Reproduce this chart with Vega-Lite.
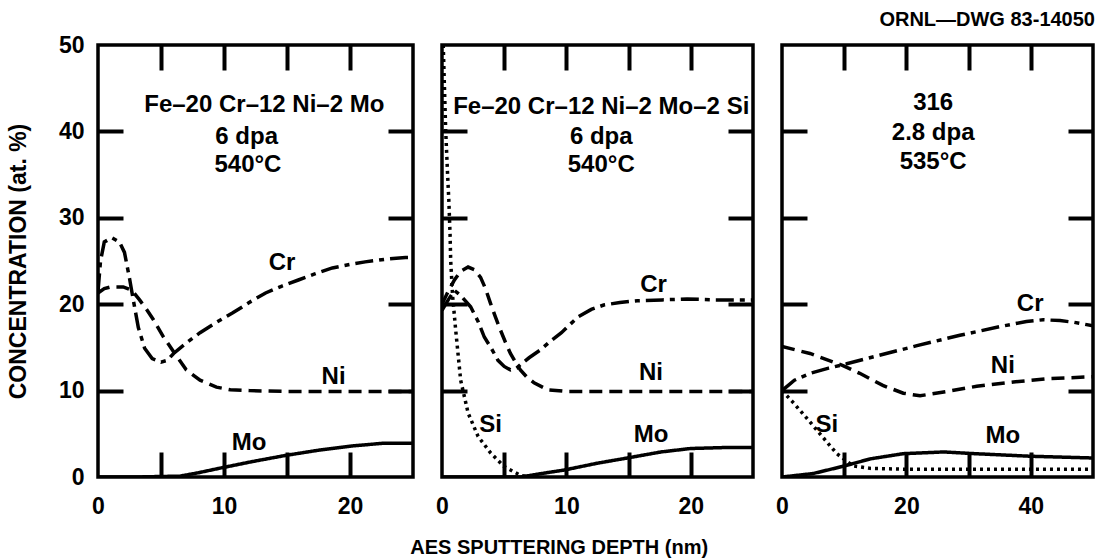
{
  "$schema": "https://vega.github.io/schema/vega-lite/v6.json",
  "background": "white",
  "padding": {"left": 5, "top": 8, "right": 3, "bottom": 4},
  "bounds": "flush",
  "spacing": 29,
  "title": {"text": "AES SPUTTERING DEPTH (nm)", "orient": "bottom", "anchor": "middle", "font": "Liberation Sans", "fontSize": 20, "fontWeight": "bold", "color": "black", "offset": 18, "dx": 8},
  "datasets": {
    "curves": [
      {"panel": "p1", "element": "Cr", "x": 0, "y": 21.5},
      {"panel": "p1", "element": "Cr", "x": 0.2, "y": 25},
      {"panel": "p1", "element": "Cr", "x": 0.5, "y": 27.2},
      {"panel": "p1", "element": "Cr", "x": 1.1, "y": 27.7},
      {"panel": "p1", "element": "Cr", "x": 1.7, "y": 27.2},
      {"panel": "p1", "element": "Cr", "x": 2.1, "y": 26},
      {"panel": "p1", "element": "Cr", "x": 2.5, "y": 23},
      {"panel": "p1", "element": "Cr", "x": 2.8, "y": 20.5},
      {"panel": "p1", "element": "Cr", "x": 3.2, "y": 17.3},
      {"panel": "p1", "element": "Cr", "x": 3.7, "y": 14.9},
      {"panel": "p1", "element": "Cr", "x": 4.3, "y": 13.7},
      {"panel": "p1", "element": "Cr", "x": 5, "y": 13.3},
      {"panel": "p1", "element": "Cr", "x": 5.5, "y": 13.5},
      {"panel": "p1", "element": "Cr", "x": 6, "y": 14.3},
      {"panel": "p1", "element": "Cr", "x": 7, "y": 15.5},
      {"panel": "p1", "element": "Cr", "x": 8.1, "y": 16.7},
      {"panel": "p1", "element": "Cr", "x": 9.4, "y": 17.9},
      {"panel": "p1", "element": "Cr", "x": 10.7, "y": 19},
      {"panel": "p1", "element": "Cr", "x": 12, "y": 20.2},
      {"panel": "p1", "element": "Cr", "x": 13.3, "y": 21.3},
      {"panel": "p1", "element": "Cr", "x": 14.6, "y": 22.1},
      {"panel": "p1", "element": "Cr", "x": 15.9, "y": 22.8},
      {"panel": "p1", "element": "Cr", "x": 17.2, "y": 23.5},
      {"panel": "p1", "element": "Cr", "x": 18.6, "y": 24.2},
      {"panel": "p1", "element": "Cr", "x": 20, "y": 24.6},
      {"panel": "p1", "element": "Cr", "x": 21.2, "y": 24.9},
      {"panel": "p1", "element": "Cr", "x": 22.8, "y": 25.2},
      {"panel": "p1", "element": "Cr", "x": 24.4, "y": 25.4},
      {"panel": "p1", "element": "Cr", "x": 25, "y": 25.4},
      {"panel": "p1", "element": "Ni", "x": 0, "y": 21.3},
      {"panel": "p1", "element": "Ni", "x": 0.5, "y": 21.8},
      {"panel": "p1", "element": "Ni", "x": 1, "y": 22},
      {"panel": "p1", "element": "Ni", "x": 2, "y": 22},
      {"panel": "p1", "element": "Ni", "x": 2.7, "y": 21.6},
      {"panel": "p1", "element": "Ni", "x": 3.3, "y": 20.5},
      {"panel": "p1", "element": "Ni", "x": 3.9, "y": 19.3},
      {"panel": "p1", "element": "Ni", "x": 4.4, "y": 18.2},
      {"panel": "p1", "element": "Ni", "x": 5.2, "y": 16.2},
      {"panel": "p1", "element": "Ni", "x": 6, "y": 14.5},
      {"panel": "p1", "element": "Ni", "x": 7, "y": 12.4},
      {"panel": "p1", "element": "Ni", "x": 8.1, "y": 11.2},
      {"panel": "p1", "element": "Ni", "x": 9.4, "y": 10.4},
      {"panel": "p1", "element": "Ni", "x": 10.5, "y": 10.1},
      {"panel": "p1", "element": "Ni", "x": 12, "y": 10},
      {"panel": "p1", "element": "Ni", "x": 15, "y": 9.9},
      {"panel": "p1", "element": "Ni", "x": 20, "y": 9.9},
      {"panel": "p1", "element": "Ni", "x": 25, "y": 9.9},
      {"panel": "p1", "element": "Mo", "x": 0, "y": 0},
      {"panel": "p1", "element": "Mo", "x": 3, "y": 0},
      {"panel": "p1", "element": "Mo", "x": 6.5, "y": 0.1},
      {"panel": "p1", "element": "Mo", "x": 8, "y": 0.5},
      {"panel": "p1", "element": "Mo", "x": 9.6, "y": 1.0},
      {"panel": "p1", "element": "Mo", "x": 12.3, "y": 1.8},
      {"panel": "p1", "element": "Mo", "x": 14.9, "y": 2.5},
      {"panel": "p1", "element": "Mo", "x": 17.5, "y": 3.1},
      {"panel": "p1", "element": "Mo", "x": 20.2, "y": 3.6},
      {"panel": "p1", "element": "Mo", "x": 22.6, "y": 3.9},
      {"panel": "p1", "element": "Mo", "x": 25, "y": 3.9},

      {"panel": "p2", "element": "Si", "x": 0.1, "y": 50},
      {"panel": "p2", "element": "Si", "x": 0.2, "y": 45},
      {"panel": "p2", "element": "Si", "x": 0.3, "y": 40},
      {"panel": "p2", "element": "Si", "x": 0.45, "y": 35},
      {"panel": "p2", "element": "Si", "x": 0.55, "y": 32},
      {"panel": "p2", "element": "Si", "x": 0.65, "y": 28},
      {"panel": "p2", "element": "Si", "x": 0.7, "y": 25},
      {"panel": "p2", "element": "Si", "x": 0.85, "y": 21},
      {"panel": "p2", "element": "Si", "x": 1.1, "y": 17},
      {"panel": "p2", "element": "Si", "x": 1.5, "y": 11.2},
      {"panel": "p2", "element": "Si", "x": 2.1, "y": 7.4},
      {"panel": "p2", "element": "Si", "x": 2.9, "y": 4.7},
      {"panel": "p2", "element": "Si", "x": 3.9, "y": 2.8},
      {"panel": "p2", "element": "Si", "x": 5, "y": 1.2},
      {"panel": "p2", "element": "Si", "x": 6.3, "y": 0.2},
      {"panel": "p2", "element": "Si", "x": 7, "y": 0},
      {"panel": "p2", "element": "Cr", "x": 0, "y": 19.3},
      {"panel": "p2", "element": "Cr", "x": 0.5, "y": 20.5},
      {"panel": "p2", "element": "Cr", "x": 1, "y": 21.6},
      {"panel": "p2", "element": "Cr", "x": 1.5, "y": 21},
      {"panel": "p2", "element": "Cr", "x": 2.3, "y": 19.7},
      {"panel": "p2", "element": "Cr", "x": 2.9, "y": 18},
      {"panel": "p2", "element": "Cr", "x": 3.4, "y": 16.2},
      {"panel": "p2", "element": "Cr", "x": 4, "y": 14.8},
      {"panel": "p2", "element": "Cr", "x": 4.5, "y": 13.5},
      {"panel": "p2", "element": "Cr", "x": 5, "y": 12.8},
      {"panel": "p2", "element": "Cr", "x": 5.5, "y": 12.4},
      {"panel": "p2", "element": "Cr", "x": 6, "y": 12.6},
      {"panel": "p2", "element": "Cr", "x": 6.3, "y": 13},
      {"panel": "p2", "element": "Cr", "x": 7, "y": 13.8},
      {"panel": "p2", "element": "Cr", "x": 7.9, "y": 14.7},
      {"panel": "p2", "element": "Cr", "x": 8.7, "y": 15.7},
      {"panel": "p2", "element": "Cr", "x": 9.6, "y": 16.7},
      {"panel": "p2", "element": "Cr", "x": 10.9, "y": 18.5},
      {"panel": "p2", "element": "Cr", "x": 12, "y": 19.4},
      {"panel": "p2", "element": "Cr", "x": 13, "y": 19.9},
      {"panel": "p2", "element": "Cr", "x": 14.3, "y": 20.2},
      {"panel": "p2", "element": "Cr", "x": 15.7, "y": 20.4},
      {"panel": "p2", "element": "Cr", "x": 17.7, "y": 20.5},
      {"panel": "p2", "element": "Cr", "x": 19.7, "y": 20.6},
      {"panel": "p2", "element": "Cr", "x": 22, "y": 20.5},
      {"panel": "p2", "element": "Cr", "x": 25, "y": 20.5},
      {"panel": "p2", "element": "Ni", "x": 0, "y": 20},
      {"panel": "p2", "element": "Ni", "x": 0.5, "y": 21.5},
      {"panel": "p2", "element": "Ni", "x": 1, "y": 22.8},
      {"panel": "p2", "element": "Ni", "x": 1.5, "y": 23.8},
      {"panel": "p2", "element": "Ni", "x": 2.1, "y": 24.3},
      {"panel": "p2", "element": "Ni", "x": 2.6, "y": 24},
      {"panel": "p2", "element": "Ni", "x": 3.1, "y": 23.1},
      {"panel": "p2", "element": "Ni", "x": 3.5, "y": 21.8},
      {"panel": "p2", "element": "Ni", "x": 3.9, "y": 20.1},
      {"panel": "p2", "element": "Ni", "x": 4.3, "y": 18.5},
      {"panel": "p2", "element": "Ni", "x": 4.7, "y": 17},
      {"panel": "p2", "element": "Ni", "x": 5.1, "y": 15.6},
      {"panel": "p2", "element": "Ni", "x": 5.5, "y": 14.3},
      {"panel": "p2", "element": "Ni", "x": 5.9, "y": 13.3},
      {"panel": "p2", "element": "Ni", "x": 6.3, "y": 12.4},
      {"panel": "p2", "element": "Ni", "x": 6.8, "y": 11.6},
      {"panel": "p2", "element": "Ni", "x": 7.4, "y": 10.9},
      {"panel": "p2", "element": "Ni", "x": 8.5, "y": 10.1},
      {"panel": "p2", "element": "Ni", "x": 10, "y": 9.9},
      {"panel": "p2", "element": "Ni", "x": 15, "y": 9.9},
      {"panel": "p2", "element": "Ni", "x": 20, "y": 9.9},
      {"panel": "p2", "element": "Ni", "x": 25, "y": 9.9},
      {"panel": "p2", "element": "Mo", "x": 0, "y": 0},
      {"panel": "p2", "element": "Mo", "x": 6.3, "y": 0},
      {"panel": "p2", "element": "Mo", "x": 8, "y": 0.4},
      {"panel": "p2", "element": "Mo", "x": 9.8, "y": 0.8},
      {"panel": "p2", "element": "Mo", "x": 12.5, "y": 1.6},
      {"panel": "p2", "element": "Mo", "x": 14.9, "y": 2.2},
      {"panel": "p2", "element": "Mo", "x": 17.6, "y": 2.9},
      {"panel": "p2", "element": "Mo", "x": 20, "y": 3.3},
      {"panel": "p2", "element": "Mo", "x": 22.5, "y": 3.4},
      {"panel": "p2", "element": "Mo", "x": 25, "y": 3.4},

      {"panel": "p3", "element": "Cr", "x": 0, "y": 10},
      {"panel": "p3", "element": "Cr", "x": 2, "y": 11.2},
      {"panel": "p3", "element": "Cr", "x": 4.5, "y": 12},
      {"panel": "p3", "element": "Cr", "x": 7.5, "y": 12.6},
      {"panel": "p3", "element": "Cr", "x": 10.4, "y": 13.1},
      {"panel": "p3", "element": "Cr", "x": 15.2, "y": 14},
      {"panel": "p3", "element": "Cr", "x": 21.7, "y": 15.2},
      {"panel": "p3", "element": "Cr", "x": 28.6, "y": 16.4},
      {"panel": "p3", "element": "Cr", "x": 35, "y": 17.4},
      {"panel": "p3", "element": "Cr", "x": 39.3, "y": 18},
      {"panel": "p3", "element": "Cr", "x": 42, "y": 18.2},
      {"panel": "p3", "element": "Cr", "x": 44.7, "y": 18.1},
      {"panel": "p3", "element": "Cr", "x": 47, "y": 17.9},
      {"panel": "p3", "element": "Cr", "x": 50, "y": 17.5},
      {"panel": "p3", "element": "Ni", "x": 0, "y": 15.1},
      {"panel": "p3", "element": "Ni", "x": 4.5, "y": 14.3},
      {"panel": "p3", "element": "Ni", "x": 7.5, "y": 13.5},
      {"panel": "p3", "element": "Ni", "x": 9.8, "y": 12.9},
      {"panel": "p3", "element": "Ni", "x": 12.5, "y": 12},
      {"panel": "p3", "element": "Ni", "x": 16.2, "y": 10.6},
      {"panel": "p3", "element": "Ni", "x": 19.5, "y": 9.7},
      {"panel": "p3", "element": "Ni", "x": 22.2, "y": 9.4},
      {"panel": "p3", "element": "Ni", "x": 26.5, "y": 9.9},
      {"panel": "p3", "element": "Ni", "x": 31.3, "y": 10.5},
      {"panel": "p3", "element": "Ni", "x": 37.2, "y": 11},
      {"panel": "p3", "element": "Ni", "x": 43, "y": 11.4},
      {"panel": "p3", "element": "Ni", "x": 50, "y": 11.6},
      {"panel": "p3", "element": "Si", "x": 0, "y": 10},
      {"panel": "p3", "element": "Si", "x": 1.7, "y": 8.7},
      {"panel": "p3", "element": "Si", "x": 3.4, "y": 7.3},
      {"panel": "p3", "element": "Si", "x": 6.1, "y": 5},
      {"panel": "p3", "element": "Si", "x": 8.8, "y": 2.7},
      {"panel": "p3", "element": "Si", "x": 11.4, "y": 1.3},
      {"panel": "p3", "element": "Si", "x": 14.2, "y": 1},
      {"panel": "p3", "element": "Si", "x": 20, "y": 0.9},
      {"panel": "p3", "element": "Si", "x": 30, "y": 0.9},
      {"panel": "p3", "element": "Si", "x": 40, "y": 0.9},
      {"panel": "p3", "element": "Si", "x": 50, "y": 0.9},
      {"panel": "p3", "element": "Mo", "x": 0, "y": 0},
      {"panel": "p3", "element": "Mo", "x": 5, "y": 0.4},
      {"panel": "p3", "element": "Mo", "x": 9.6, "y": 1.2},
      {"panel": "p3", "element": "Mo", "x": 14.2, "y": 2.1},
      {"panel": "p3", "element": "Mo", "x": 19.5, "y": 2.7},
      {"panel": "p3", "element": "Mo", "x": 26, "y": 2.9},
      {"panel": "p3", "element": "Mo", "x": 31, "y": 2.7},
      {"panel": "p3", "element": "Mo", "x": 40, "y": 2.4},
      {"panel": "p3", "element": "Mo", "x": 50, "y": 2.2}
    ],
    "labels": [
      {"panel": "p1", "kind": "heading", "text": "Fe–20 Cr–12 Ni–2 Mo", "x": 13.2, "y": 43},
      {"panel": "p1", "kind": "heading", "text": "6 dpa", "x": 11.8, "y": 39.4},
      {"panel": "p1", "kind": "heading", "text": "540°C", "x": 11.9, "y": 36.1},
      {"panel": "p1", "kind": "curve", "text": "Cr", "x": 14.6, "y": 24.8},
      {"panel": "p1", "kind": "curve", "text": "Ni", "x": 18.7, "y": 11.6},
      {"panel": "p1", "kind": "curve", "text": "Mo", "x": 12, "y": 3.9},
      {"panel": "p2", "kind": "heading", "text": "Fe–20 Cr–12 Ni–2 Mo–2 Si", "x": 12.8, "y": 42.8},
      {"panel": "p2", "kind": "heading", "text": "6 dpa", "x": 12.8, "y": 39.4},
      {"panel": "p2", "kind": "heading", "text": "540°C", "x": 12.8, "y": 36.1},
      {"panel": "p2", "kind": "curve", "text": "Cr", "x": 17, "y": 22.2},
      {"panel": "p2", "kind": "curve", "text": "Ni", "x": 16.8, "y": 12},
      {"panel": "p2", "kind": "curve", "text": "Mo", "x": 16.8, "y": 4.9},
      {"panel": "p2", "kind": "curve", "text": "Si", "x": 3.9, "y": 6},
      {"panel": "p3", "kind": "heading", "text": "316", "x": 24.3, "y": 43.3},
      {"panel": "p3", "kind": "heading", "text": "2.8 dpa", "x": 24.3, "y": 39.8},
      {"panel": "p3", "kind": "heading", "text": "535°C", "x": 24.3, "y": 36.5},
      {"panel": "p3", "kind": "curve", "text": "Cr", "x": 39.9, "y": 20},
      {"panel": "p3", "kind": "curve", "text": "Ni", "x": 35.5, "y": 12.9},
      {"panel": "p3", "kind": "curve", "text": "Si", "x": 7.2, "y": 6},
      {"panel": "p3", "kind": "curve", "text": "Mo", "x": 35.5, "y": 4.7}
    ]
  },
  "hconcat": [
    {
      "width": 315, "height": 432,
      "layer": [
        {
          "data": {"name": "curves"},
          "transform": [{"filter": "datum.panel === 'p1'"}],
          "mark": {"type": "line", "color": "black", "strokeWidth": 3.5, "clip": true},
          "encoding": {
            "x": {"field": "x", "type": "quantitative", "scale": {"domain": [0, 25], "nice": false}, "axis": {"orient": "bottom", "title": null, "ticks": false, "labelPadding": 18, "values": [0, 10, 20]}},
            "y": {"field": "y", "type": "quantitative", "scale": {"domain": [0, 50], "nice": false}, "axis": {"orient": "left", "title": "CONCENTRATION (at. %)", "ticks": false, "labelPadding": 14, "values": [0, 10, 20, 30, 40, 50]}},
            "strokeDash": {"field": "element", "type": "nominal", "scale": {"domain": ["Cr", "Ni", "Mo", "Si"], "range": [[18, 6, 5, 6], [13, 7], [1, 0], [3, 4]]}, "legend": null}
          }
        },
        {
          "data": {"name": "labels"},
          "transform": [{"filter": "datum.panel === 'p1' && datum.kind === 'heading'"}],
          "mark": {"type": "text", "font": "Liberation Sans", "fontWeight": "bold", "fontSize": 24, "color": "black"},
          "encoding": {
            "x": {"field": "x", "type": "quantitative", "axis": {"orient": "top", "offset": -25, "title": null, "labels": false, "values": [5, 10, 15, 20]}},
            "y": {"field": "y", "type": "quantitative", "axis": {"orient": "right", "offset": -25, "title": null, "labels": false, "values": [10, 20, 30, 40]}},
            "text": {"field": "text"}
          }
        },
        {
          "data": {"name": "labels"},
          "transform": [{"filter": "datum.panel === 'p1' && datum.kind === 'curve'"}],
          "mark": {"type": "text", "font": "Liberation Sans", "fontWeight": "bold", "fontSize": 24, "color": "black"},
          "encoding": {
            "x": {"field": "x", "type": "quantitative", "axis": {"orient": "bottom", "offset": -25, "title": null, "labels": false, "values": [5, 10, 15, 20]}},
            "y": {"field": "y", "type": "quantitative", "axis": {"orient": "left", "offset": -25, "title": null, "labels": false, "values": [10, 20, 30, 40]}},
            "text": {"field": "text"}
          }
        }
      ],
      "resolve": {"axis": {"x": "independent", "y": "independent"}}
    },
    {
      "width": 311, "height": 432,
      "layer": [
        {
          "data": {"name": "curves"},
          "transform": [{"filter": "datum.panel === 'p2'"}],
          "mark": {"type": "line", "color": "black", "strokeWidth": 3.5, "clip": true},
          "encoding": {
            "x": {"field": "x", "type": "quantitative", "scale": {"domain": [0, 25], "nice": false}, "axis": {"orient": "bottom", "title": null, "ticks": false, "labelPadding": 18, "values": [0, 10, 20]}},
            "y": {"field": "y", "type": "quantitative", "scale": {"domain": [0, 50], "nice": false}, "axis": null},
            "strokeDash": {"field": "element", "type": "nominal", "scale": {"domain": ["Cr", "Ni", "Mo", "Si"], "range": [[18, 6, 5, 6], [13, 7], [1, 0], [3, 4]]}, "legend": null}
          }
        },
        {
          "data": {"name": "labels"},
          "transform": [{"filter": "datum.panel === 'p2' && datum.kind === 'heading'"}],
          "mark": {"type": "text", "font": "Liberation Sans", "fontWeight": "bold", "fontSize": 24, "color": "black"},
          "encoding": {
            "x": {"field": "x", "type": "quantitative", "axis": {"orient": "top", "offset": -25, "title": null, "labels": false, "values": [5, 10, 15, 20]}},
            "y": {"field": "y", "type": "quantitative", "axis": {"orient": "right", "offset": -25, "title": null, "labels": false, "values": [10, 20, 30, 40]}},
            "text": {"field": "text"}
          }
        },
        {
          "data": {"name": "labels"},
          "transform": [{"filter": "datum.panel === 'p2' && datum.kind === 'curve'"}],
          "mark": {"type": "text", "font": "Liberation Sans", "fontWeight": "bold", "fontSize": 24, "color": "black"},
          "encoding": {
            "x": {"field": "x", "type": "quantitative", "axis": {"orient": "bottom", "offset": -25, "title": null, "labels": false, "values": [5, 10, 15, 20]}},
            "y": {"field": "y", "type": "quantitative", "axis": {"orient": "left", "offset": -25, "title": null, "labels": false, "values": [10, 20, 30, 40]}},
            "text": {"field": "text"}
          }
        }
      ],
      "resolve": {"axis": {"x": "independent", "y": "independent"}}
    },
    {
      "width": 311, "height": 432,
      "title": {"text": "ORNL—DWG 83-14050", "anchor": "end", "font": "Liberation Sans", "fontSize": 20, "fontWeight": "bold", "color": "black", "offset": 13},
      "layer": [
        {
          "data": {"name": "curves"},
          "transform": [{"filter": "datum.panel === 'p3'"}],
          "mark": {"type": "line", "color": "black", "strokeWidth": 3.5, "clip": true},
          "encoding": {
            "x": {"field": "x", "type": "quantitative", "scale": {"domain": [0, 50], "nice": false}, "axis": {"orient": "bottom", "title": null, "ticks": false, "labelPadding": 18, "values": [0, 20, 40]}},
            "y": {"field": "y", "type": "quantitative", "scale": {"domain": [0, 50], "nice": false}, "axis": null},
            "strokeDash": {"field": "element", "type": "nominal", "scale": {"domain": ["Cr", "Ni", "Mo", "Si"], "range": [[18, 6, 5, 6], [13, 7], [1, 0], [3, 4]]}, "legend": null}
          }
        },
        {
          "data": {"name": "labels"},
          "transform": [{"filter": "datum.panel === 'p3' && datum.kind === 'heading'"}],
          "mark": {"type": "text", "font": "Liberation Sans", "fontWeight": "bold", "fontSize": 24, "color": "black"},
          "encoding": {
            "x": {"field": "x", "type": "quantitative", "axis": {"orient": "top", "offset": -25, "title": null, "labels": false, "values": [10, 20, 30, 40]}},
            "y": {"field": "y", "type": "quantitative", "axis": {"orient": "right", "offset": -25, "title": null, "labels": false, "values": [10, 20, 30, 40]}},
            "text": {"field": "text"}
          }
        },
        {
          "data": {"name": "labels"},
          "transform": [{"filter": "datum.panel === 'p3' && datum.kind === 'curve'"}],
          "mark": {"type": "text", "font": "Liberation Sans", "fontWeight": "bold", "fontSize": 24, "color": "black"},
          "encoding": {
            "x": {"field": "x", "type": "quantitative", "axis": {"orient": "bottom", "offset": -25, "title": null, "labels": false, "values": [10, 20, 30, 40]}},
            "y": {"field": "y", "type": "quantitative", "axis": {"orient": "left", "offset": -25, "title": null, "labels": false, "values": [10, 20, 30, 40]}},
            "text": {"field": "text"}
          }
        }
      ],
      "resolve": {"axis": {"x": "independent", "y": "independent"}}
    }
  ],
  "config": {
    "view": {"stroke": "black", "strokeWidth": 3.5},
    "axis": {
      "grid": false, "domain": false,
      "tickColor": "black", "tickWidth": 4, "tickSize": 25,
      "labelFont": "Liberation Sans", "labelFontWeight": "bold", "labelFontSize": 23, "labelColor": "black",
      "labelFlush": false,
      "titleFont": "Liberation Sans", "titleFontWeight": "bold", "titleFontSize": 23, "titleColor": "black", "titlePadding": 28
    }
  }
}
